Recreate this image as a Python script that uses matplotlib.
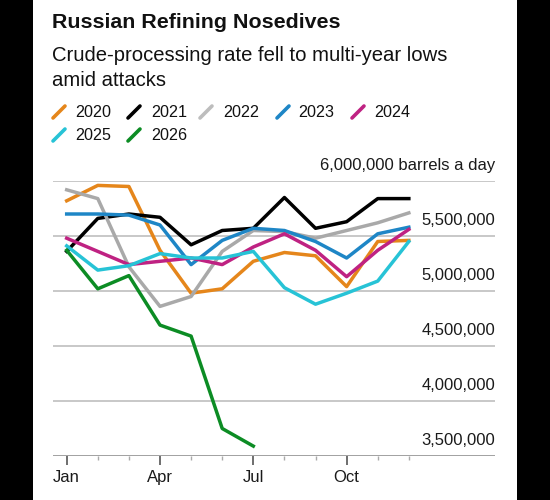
import matplotlib.pyplot as plt
from matplotlib.lines import Line2D
from matplotlib.patches import Rectangle
from matplotlib.ticker import FixedLocator

plt.rcParams['font.family'] = ['Liberation Sans', 'DejaVu Sans']

# monthly crude-processing rate, million barrels a day
months = list(range(1, 13))
month_labels = ['Jan', 'Apr', 'Jul', 'Oct']
month_label_pos = [1, 4, 7, 10]

y2020 = [5.82, 5.96, 5.95, 5.37, 4.98, 5.02, 5.27, 5.35, 5.32, 5.04, 5.45, 5.46]
y2021 = [5.36, 5.66, 5.70, 5.67, 5.42, 5.55, 5.57, 5.85, 5.57, 5.63, 5.84, 5.84]
y2022 = [5.92, 5.84, 5.22, 4.86, 4.95, 5.36, 5.55, 5.54, 5.48, 5.55, 5.62, 5.71]
y2023 = [5.70, 5.70, 5.69, 5.60, 5.24, 5.46, 5.57, 5.55, 5.45, 5.30, 5.52, 5.58]
y2024 = [5.48, 5.36, 5.24, 5.27, 5.30, 5.24, 5.40, 5.52, 5.37, 5.13, 5.37, 5.56]
y2025 = [5.41, 5.19, 5.23, 5.34, 5.30, 5.30, 5.36, 5.03, 4.88, 4.98, 5.09, 5.45]
y2026 = [5.37, 5.02, 5.14, 4.69, 4.59, 3.75, 3.59]

years = ['2020', '2021', '2022', '2023', '2024', '2025', '2026']
series = [y2020, y2021, y2022, y2023, y2024, y2025, y2026]
colors = ['#e5861b', '#000000', '#a9a9a9', '#1e86c6', '#bf2282', '#27c3d6', '#0c8c24']

ytick_vals = [3.5, 4.0, 4.5, 5.0, 5.5, 6.0]
ytick_text = ['3,500,000', '4,000,000', '4,500,000', '5,000,000', '5,500,000',
              '6,000,000 barrels a day']

fig = plt.figure(figsize=(5.5, 5.0), dpi=100)
fig.patch.set_facecolor('black')
fig.add_artist(Rectangle((33 / 550, 0), 484 / 550, 1, transform=fig.transFigure,
                         facecolor='white', edgecolor='none', zorder=0))

ax = fig.add_axes([53 / 550, 44 / 500, 442 / 550, 275 / 500])
ax.set_facecolor('none')

for yr, vals, c in zip(years, series, colors):
    ax.plot(months[:len(vals)], vals, color=c, lw=2.5, clip_on=False, zorder=3)

ax.set_xlim(0.56, 14.77)
ax.set_ylim(3.5, 6.0)

for v, t in zip(ytick_vals, ytick_text):
    ax.axhline(v, color='#c4c4c4' if v > 3.5 else '#9a9a9a', lw=1.3, zorder=1)
    ax.annotate(t, xy=(1.0, v), xycoords=ax.get_yaxis_transform(),
                xytext=(0, 6), textcoords='offset points',
                ha='right', va='bottom', fontsize=12, color='#1a1a1a')

for s in ax.spines.values():
    s.set_visible(False)
ax.set_yticks([])
ax.xaxis.set_major_locator(FixedLocator(month_label_pos))
ax.xaxis.set_minor_locator(FixedLocator(months))
ax.set_xticklabels(month_labels)
ax.tick_params(axis='x', which='major', length=6.5, width=1.2, color='#555555',
               labelsize=12, pad=3.5, labelcolor='#1a1a1a')
ax.tick_params(axis='x', which='minor', length=3, width=1.0, color='#aaaaaa')

# title block
fig.text(52 / 550, 1 - 28.5 / 500, 'Russian Refining Nosedives', fontsize=15.4,
         fontweight='bold', va='baseline', color='#111111')
fig.text(52 / 550, 1 - 61 / 500, 'Crude-processing rate fell to multi-year lows',
         fontsize=14.6, va='baseline', color='#111111')
fig.text(52 / 550, 1 - 86 / 500, 'amid attacks', fontsize=14.6, va='baseline',
         color='#111111')

# legend with slash swatches
leg_pos = [(53, 75, 117), (128, 151, 117), (200, 223, 117), (277, 298, 117),
           (352, 374, 117), (53, 75, 140), (128, 151, 140)]
for (sx, tx, by), yr, c in zip(leg_pos, years, colors):
    if yr == '2022':
        c = '#bdbdbd'
    fig.add_artist(Line2D([sx / 550, (sx + 12) / 550],
                          [1 - (by + 1) / 500, 1 - (by - 11) / 500],
                          transform=fig.transFigure, color=c, lw=2.6,
                          solid_capstyle='round'))
    fig.text(tx / 550, 1 - by / 500, yr, fontsize=11.6, va='baseline',
             color='#111111')

fig.savefig('out.png', dpi=100, facecolor=fig.get_facecolor())
